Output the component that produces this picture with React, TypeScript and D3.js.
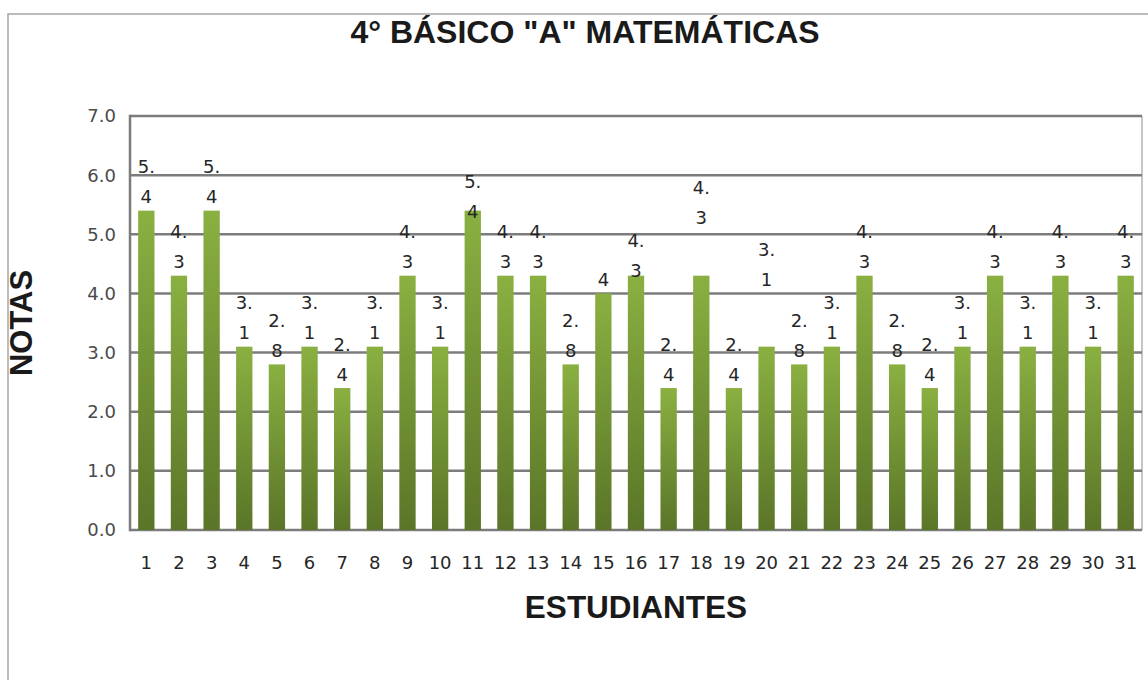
import * as d3 from "d3";
import { useEffect, useRef } from "react";

const students = d3.range(1, 32).map(String);
const notas = [
  5.4, 4.3, 5.4, 3.1, 2.8, 3.1, 2.4, 3.1, 4.3, 3.1, 5.4, 4.3, 4.3, 2.8, 4.0, 4.3,
  2.4, 4.3, 2.4, 3.1, 2.8, 3.1, 4.3, 2.8, 2.4, 3.1, 4.3, 3.1, 4.3, 3.1, 4.3,
];
const yTicks = [0, 1, 2, 3, 4, 5, 6, 7];

const title = '4° BÁSICO "A" MATEMÁTICAS';
const xTitle = "ESTUDIANTES";
const yTitle = "NOTAS";

const App = () => {
  const ref = useRef<SVGSVGElement>(null);

  useEffect(() => {
    const width = 1148;
    const height = 680;
    const left = 130;
    const right = 1142;
    const top = 116;
    const bottom = 530;
    const gridColor = "#7c7c7c";
    const tickFont = "'DejaVu Sans', Verdana, sans-serif";
    const titleFont = "'Liberation Sans', Arial, sans-serif";

    // labels that were dragged away from their default spot (px, + is down)
    const labelNudge: Record<number, number> = { 11: 15, 16: 9, 18: -44, 20: -53 };

    const svg = d3.select(ref.current);
    svg.selectAll("*").remove();
    svg.attr("width", width).attr("height", height);

    const defs = svg.append("defs");
    const grad = defs
      .append("linearGradient")
      .attr("id", "barGrad")
      .attr("x1", 0)
      .attr("y1", 0)
      .attr("x2", 0)
      .attr("y2", 1);
    grad.append("stop").attr("offset", "0%").attr("stop-color", "#8ab041");
    grad.append("stop").attr("offset", "100%").attr("stop-color", "#5a7528");

    // outer frame
    svg
      .append("rect")
      .attr("x", 8)
      .attr("y", 14)
      .attr("width", width + 20)
      .attr("height", height + 20)
      .attr("fill", "white")
      .attr("stroke", "#a6a6a6")
      .attr("stroke-width", 1.5);

    const x = d3
      .scaleBand<string>()
      .domain(students)
      .range([left, right])
      .paddingInner(0.5)
      .paddingOuter(0.25);
    const y = d3.scaleLinear().domain([0, 7]).range([bottom, top]);

    // right border of plot area
    svg
      .append("line")
      .attr("x1", right)
      .attr("x2", right)
      .attr("y1", top)
      .attr("y2", bottom)
      .attr("stroke", "#a0a0a0")
      .attr("stroke-width", 1.2);

    svg
      .append("g")
      .selectAll("line")
      .data(yTicks)
      .join("line")
      .attr("x1", left)
      .attr("x2", right)
      .attr("y1", (d) => y(d))
      .attr("y2", (d) => y(d))
      .attr("stroke", gridColor)
      .attr("stroke-width", 2.5);

    svg
      .append("line")
      .attr("x1", left)
      .attr("x2", left)
      .attr("y1", top - 1.25)
      .attr("y2", bottom + 1.25)
      .attr("stroke", gridColor)
      .attr("stroke-width", 2.5);

    svg
      .append("g")
      .selectAll("text")
      .data(yTicks)
      .join("text")
      .attr("x", left - 14)
      .attr("y", (d) => y(d))
      .attr("dy", "0.36em")
      .attr("text-anchor", "end")
      .attr("font-family", tickFont)
      .attr("font-size", 18)
      .attr("fill", "#4a4a4a")
      .text((d) => d3.format(".1f")(d));

    svg
      .append("g")
      .selectAll("rect")
      .data(notas)
      .join("rect")
      .attr("x", (d, i) => x(students[i])!)
      .attr("width", x.bandwidth())
      .attr("y", (d) => y(d))
      .attr("height", (d) => bottom - y(d))
      .attr("fill", "url(#barGrad)");

    svg
      .append("g")
      .selectAll("text")
      .data(students)
      .join("text")
      .attr("x", (d) => x(d)! + x.bandwidth() / 2)
      .attr("y", bottom + 33)
      .attr("dy", "0.36em")
      .attr("text-anchor", "middle")
      .attr("font-family", tickFont)
      .attr("font-size", 18)
      .attr("fill", "#262626")
      .text((d) => d);

    // data labels, wrapped after the decimal point like the original
    const labels = svg.append("g");
    notas.forEach((v, i) => {
      const cx = x(students[i])! + x.bandwidth() / 2;
      const base = y(v) - 14 + (labelNudge[i + 1] || 0);
      const txt = Number.isInteger(v) ? String(v) : v.toFixed(1);
      const parts = txt.includes(".")
        ? [txt.slice(0, txt.indexOf(".") + 1), txt.slice(txt.indexOf(".") + 1)]
        : [txt];
      parts.forEach((p, j) => {
        labels
          .append("text")
          .attr("x", cx)
          .attr("y", base - (parts.length - 1 - j) * 30)
          .attr("dy", "0.36em")
          .attr("text-anchor", "middle")
          .attr("font-family", tickFont)
          .attr("font-size", 18)
          .attr("fill", "#262626")
          .text(p);
      });
    });

    svg
      .append("text")
      .attr("x", 585)
      .attr("y", 43)
      .attr("text-anchor", "middle")
      .attr("font-family", titleFont)
      .attr("font-weight", "bold")
      .attr("font-size", 32)
      .attr("fill", "#1a1a1a")
      .text(title);

    svg
      .append("text")
      .attr("x", 636)
      .attr("y", 618)
      .attr("text-anchor", "middle")
      .attr("font-family", titleFont)
      .attr("font-weight", "bold")
      .attr("font-size", 31.5)
      .attr("fill", "#1a1a1a")
      .text(xTitle);

    svg
      .append("text")
      .attr("transform", `translate(32, 323) rotate(-90)`)
      .attr("text-anchor", "middle")
      .attr("font-family", titleFont)
      .attr("font-weight", "bold")
      .attr("font-size", 31)
      .attr("fill", "#1a1a1a")
      .text(yTitle);
  }, []);

  return (
    <svg
      ref={ref}
      style={{ position: "absolute", left: 0, top: 0, display: "block" }}
    />
  );
};

export default App;
